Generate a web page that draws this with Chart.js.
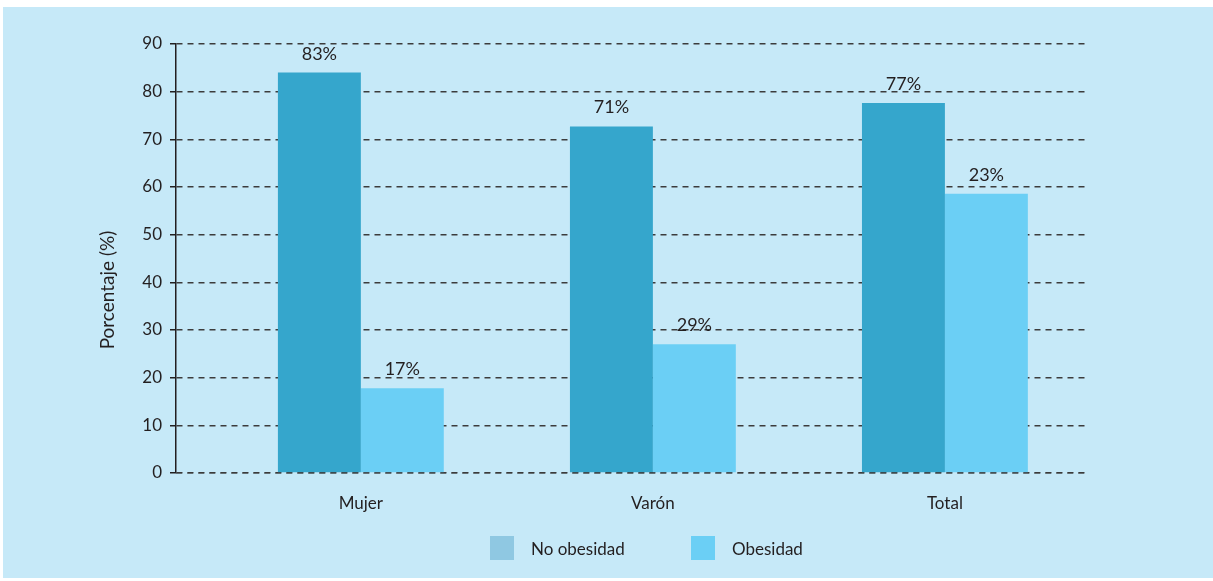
<!DOCTYPE html>
<html>
<head>
<meta charset="utf-8">
<script src="https://cdn.jsdelivr.net/npm/chart.js@4"></script>
<style>
	body { margin: 0; background: #ffffff; }
	#wrap { position: relative; width: 1213px; height: 581px; }
	#panel { position: absolute; left: 3px; top: 7px; width: 1210px; height: 571px; background: #c6e9f8; }
	#canvasObesidad { position: absolute; left: 0; top: 0; }
	.legend-item { position: absolute; top: 536px; height: 24px; display: flex; align-items: center;
		font-family: Lato, sans-serif; font-size: 17px; color: #231f20; }
	.legend-box { width: 24px; height: 24px; margin-right: 17px; }
</style>
</head>
<body>
<div id="wrap">
	<div id="panel"></div>
	<canvas id="canvasObesidad" width="1213" height="581"></canvas>
	<div class="legend-item" style="left:490px"><span class="legend-box" style="background:#8fc8e2"></span>No obesidad</div>
	<div class="legend-item" style="left:691px"><span class="legend-box" style="background:#6bcff5"></span>Obesidad</div>
</div>
<script>
// datos del gráfico
var categories = ['Mujer', 'Varón', 'Total'];
var categoryPositions = [1, 2, 3];
var seriesNames = ['No obesidad', 'Obesidad'];
var noObesidadValues = [84.0, 72.7, 77.6];
var obesidadValues = [17.8, 27.0, 58.6];
var noObesidadLabels = ['83%', '71%', '77%'];
var obesidadLabels = ['17%', '29%', '23%'];
var yTickStep = 10;
var yMax = 90;

var FONT = 'Lato, sans-serif';
var TEXT = '#231f20';

function toPoints(values) {
	return values.map(function(v, i) { return { x: categoryPositions[i], y: v }; });
}

/***********************************************************************************************
 * etiquetas sobre las barras + línea del cero + título del eje Y
 ***********************************************************************************************/
var extras = {
	id: 'extras',
	afterDatasetsDraw: function(chart) {
		var ctx = chart.ctx;
		var area = chart.chartArea;
		var y0 = chart.scales.y.getPixelForValue(0);

		// la línea del cero queda encima de las barras
		ctx.save();
		ctx.strokeStyle = 'rgba(60,60,60,0.55)';
		ctx.lineWidth = 1.5;
		ctx.setLineDash([6, 5]);
		ctx.beginPath();
		ctx.moveTo(area.left, y0);
		ctx.lineTo(area.right, y0);
		ctx.stroke();
		ctx.restore();

		var labelSets = [noObesidadLabels, obesidadLabels];
		ctx.save();
		ctx.font = '18px ' + FONT;
		ctx.fillStyle = TEXT;
		ctx.textAlign = 'center';
		ctx.textBaseline = 'alphabetic';
		chart.data.datasets.forEach(function(ds, d) {
			chart.getDatasetMeta(d).data.forEach(function(bar, i) {
				ctx.fillText(labelSets[d][i], bar.x, bar.y - 13);
			});
		});
		ctx.restore();
	},
	afterDraw: function(chart) {
		var ctx = chart.ctx;
		ctx.save();
		ctx.font = '19px ' + FONT;
		ctx.fillStyle = TEXT;
		ctx.textAlign = 'center';
		ctx.textBaseline = 'middle';
		ctx.translate(108, 290);
		ctx.rotate(-Math.PI / 2);
		ctx.fillText('Porcentaje (%)', 0, 0);
		ctx.restore();
	}
};

var chart = new Chart(document.getElementById('canvasObesidad'), {
	type: 'bar',
	data: {
		datasets: [{
			label: seriesNames[0],
			data: toPoints(noObesidadValues),
			backgroundColor: '#35a6cc',
			borderWidth: 0
		}, {
			label: seriesNames[1],
			data: toPoints(obesidadValues),
			backgroundColor: '#6bcff5',
			borderWidth: 0
		}]
	},
	options: {
		responsive: false,
		animation: false,
		categoryPercentage: 0.568,
		barPercentage: 1,
		layout: {
			padding: { left: 0, right: 125, top: 44, bottom: 68 }
		},
		plugins: {
			legend: { display: false },
			tooltip: { enabled: false }
		},
		scales: {
			x: {
				type: 'linear',
				offset: false,
				min: 0.367,
				max: 3.49,
				afterBuildTicks: function(scale) {
					scale.ticks = categoryPositions.map(function(v) { return { value: v }; });
				},
				afterFit: function(scale) { scale.height = 40; },
				grid: { display: false, drawTicks: false, tickLength: 0 },
				border: { display: false },
				ticks: {
					autoSkip: false,
					maxRotation: 0,
					padding: 20,
					color: TEXT,
					font: { family: FONT, size: 17 },
					callback: function(value) { return categories[value - 1]; }
				}
			},
			y: {
				min: 0,
				max: yMax,
				afterFit: function(scale) { scale.width = 176; },
				grid: {
					color: '#3c3c3c',
					lineWidth: 1.5,
					tickLength: 6,
					tickColor: TEXT
				},
				border: {
					display: true,
					color: TEXT,
					width: 1.5,
					dash: [6, 5]
				},
				ticks: {
					stepSize: yTickStep,
					padding: 8,
					color: TEXT,
					font: { family: FONT, size: 17 }
				}
			}
		}
	},
	plugins: [extras]
});
</script>
</body>
</html>
